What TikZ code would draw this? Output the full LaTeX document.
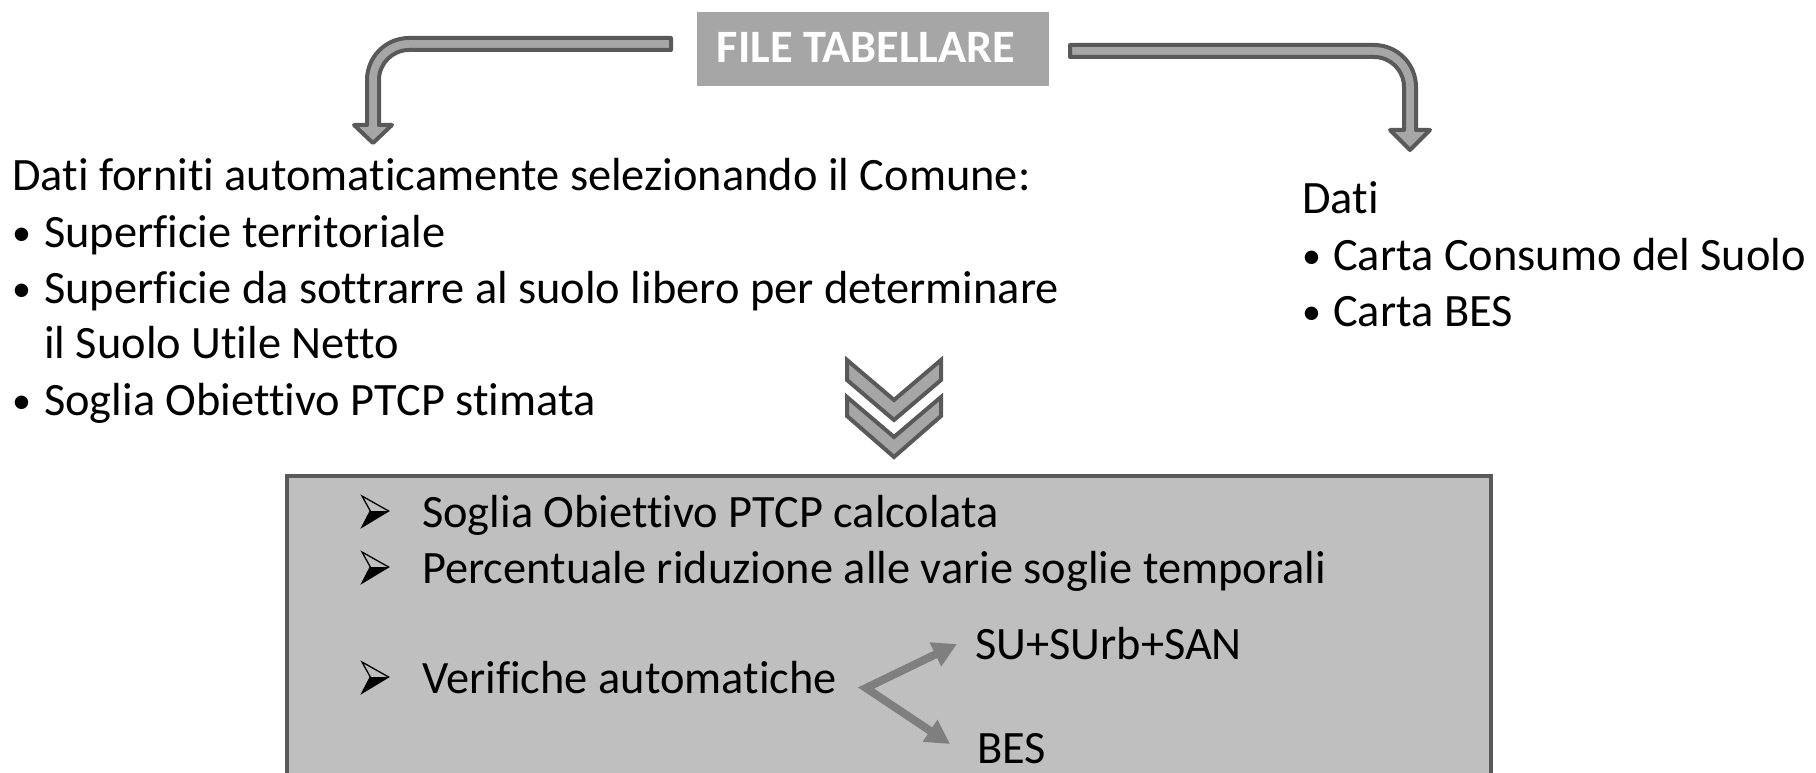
\documentclass[tikz,border=0pt]{standalone}
\usepackage{fontspec}
\setmainfont{Carlito}[Ligatures={NoCommon}]
\usetikzlibrary{arrows.meta}
\definecolor{fillg}{HTML}{A6A6A6}
\definecolor{edgeg}{HTML}{595959}
\definecolor{boxg}{HTML}{BFBFBF}
\definecolor{forkg}{HTML}{7F7F7F}
\begin{document}
\begin{tikzpicture}[x=1pt,y=-1pt,
  txt/.style={inner sep=0pt,anchor=base west,font=\fontsize{46.4}{56}\selectfont},
  bul/.style={inner sep=0pt,anchor=base west,font=\fontsize{38}{46}\selectfont},
  blockarrow/.style={fill=fillg,draw=edgeg,line width=4pt,line join=round},
  forkarrow/.style={draw=forkg,line width=8pt,line join=miter,
    {Triangle[length=24pt,width=25pt]}-{Triangle[length=24pt,width=25pt]}},
  arrbullet/.pic={
    \draw[line width=1.3pt,line join=miter] (0,-31) -- (26.6,-16) -- (0,0) -- (8.3,-16) -- cycle;
    \fill (8.3,-16) -- (26.6,-16) -- (0,0) -- cycle;}]
\useasboundingbox (0,0) rectangle (1816,773);

% title
\node[fill=fillg,minimum width=352pt,minimum height=74pt,inner sep=0pt] (tit) at (873,49) {};
\node[inner sep=0pt,anchor=base,text=white,font=\fontsize{46.4}{56}\selectfont\bfseries] (tittxt) at (866,63) {FILE TABELLARE};

% left bent arrow
\draw[blockarrow] (671,38) -- (409,38) arc[start angle=270,end angle=180,radius=42]
  -- (367,125) -- (354,125) -- (373,143) -- (392,125) -- (379,125) -- (379,80)
  arc[start angle=180,end angle=270,radius=30] -- (671,50) -- cycle;

% right bent arrow
\draw[blockarrow] (1070,45) -- (1374,45) arc[start angle=270,end angle=360,radius=42]
  -- (1416,130) -- (1430,130) -- (1410,150) -- (1390,130) -- (1404,130) -- (1404,87)
  arc[start angle=0,end angle=-90,radius=30] -- (1070,57) -- cycle;

% left block
\node[txt] (l1) at (12,190) {Dati forniti automaticamente selezionando il Comune:};
\node[bul] (b2) at (12,245) {•};
\node[txt] (l2) at (44,247) {Superficie territoriale};
\node[bul] (b3) at (12,301) {•};
\node[txt] (l3) at (44,303) {Superficie da sottrarre al suolo libero per determinare};
\node[txt] (l4) at (44,358) {il Suolo Utile Netto};
\node[bul] (b5) at (12,413) {•};
\node[txt] (l5) at (44,415) {Soglia Obiettivo PTCP stimata};

% right block
\node[txt] (r1) at (1302,214) {Dati};
\node[bul] (rb2) at (1302,268) {•};
\node[txt] (r2) at (1333,270) {Carta Consumo del Suolo};
\node[bul] (rb3) at (1302,324) {•};
\node[txt] (r3) at (1333,326) {Carta BES};

% double chevron
\draw[blockarrow,line join=miter] (847,360) -- (894,400) -- (941,360) -- (941,380) -- (894,420) -- (847,380) -- cycle;
\draw[blockarrow,line join=miter] (847,397) -- (894,437) -- (941,397) -- (941,416) -- (894,457) -- (847,416) -- cycle;

% bottom box
\draw[draw=edgeg,fill=boxg,line width=4.5pt] (287,476) rectangle (1491,800);
\pic at (362,527) {arrbullet};
\node[txt] (m1) at (422,527) {Soglia Obiettivo PTCP calcolata};
\pic at (362,583) {arrbullet};
\node[txt] (m2) at (422,583) {Percentuale riduzione alle varie soglie temporali};
\pic at (362,693) {arrbullet};
\node[txt] (m3) at (422,693) {Verifiche automatiche};
\node[txt] (su) at (975,659) {SU+SUrb+SAN};
\node[txt] (bes) at (977,763) {BES};
\coordinate (fv) at (866,688);
\draw[forkarrow] ([xshift=-18pt,yshift=15pt]su.base west) -- (fv) -- ([xshift=-27pt,yshift=19pt]bes.base west);
\end{tikzpicture}
\end{document}
